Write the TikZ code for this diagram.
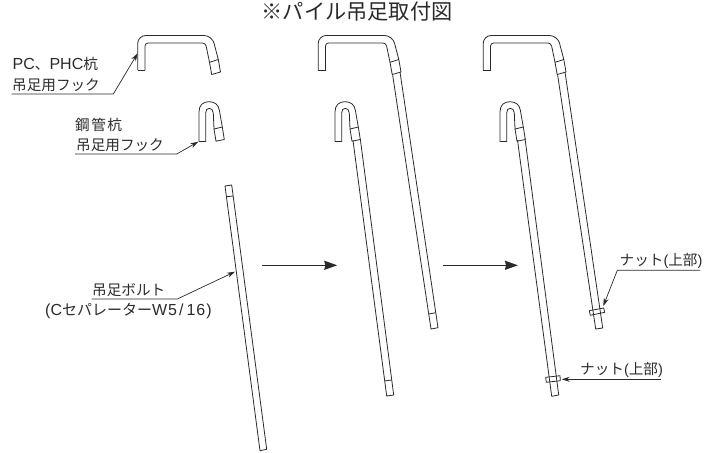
\documentclass[tikz,border=0pt]{standalone}
\usepackage{fontspec}
\setmainfont{Liberation Sans}
\newfontfamily\cjk{Noto Sans CJK JP}
\usetikzlibrary{arrows.meta}
\definecolor{ink}{HTML}{2A2A2A}
\newcommand{\jp}[1]{{\cjk\fontsize{14.6}{16}\selectfont #1}}
\tikzset{
  part/.style={draw=ink,line width=0.8pt,line join=round},
  leader/.style={draw=ink,line width=0.7pt,-{Stealth[length=8pt,width=5pt]}},
  flow/.style={draw=ink,line width=1.5pt,-{Stealth[length=13pt,width=9pt,inset=1pt]}},
  lab/.style={anchor=base west,inner sep=0pt,text=ink,font=\fontsize{16}{18}\selectfont},
  ttl/.style={anchor=base west,inner sep=0pt,text=ink}
}
\newcommand{\longhook}[1]{%
  \begin{scope}[shift={(#1,0)}]
    \draw[part,rounded corners=8pt] (137.7,70) -- (137.7,35.5) -- (212,35.5) -- (218.3,59.5);
    \draw[part,rounded corners=3pt] (145,70) -- (145,43) -- (205.5,43) -- (209.5,62.3);
    \draw[part] (137.7,70) -- (145,70);
    \draw[part] (209.5,62.3) -- (218.3,59.5) -- (220.5,72) -- (211.7,74.5) -- cycle;
  \end{scope}}
\newcommand{\shorthook}[1]{%
  \begin{scope}[shift={(#1,0)}]
    \draw[part] (199,141.7) -- (199,112) .. controls (199,105) and (203,101.7) .. (209,101.7)
      .. controls (215,101.7) and (218.5,105) .. (219.3,110) -- (222.3,127);
    \draw[part] (205.7,141.7) -- (205.7,113) .. controls (205.7,110) and (207,108.3) .. (209.3,108.3)
      .. controls (211.5,108.3) and (213,110) .. (213.3,113) -- (214,129);
    \draw[part] (199,141.7) -- (205.7,141.7);
    \draw[part] (214,129) -- (222.3,127) -- (224.3,139.5) -- (216,141.2) -- cycle;
  \end{scope}}
\begin{document}
\begin{tikzpicture}[x=1pt,y=-1pt]
\useasboundingbox (0,0) rectangle (714,452);
% title
\node[ttl] (title) at (261.5,19.5) {{\cjk\fontsize{21.2}{24}\selectfont ※パイル吊足取付図}};
% hooks
\longhook{0}
\shorthook{0}
\longhook{180.5}
\shorthook{136}
\longhook{345.5}
\shorthook{301}
% bolt
\draw[part] (225,186) -- (231.7,185) -- (266.7,449.3) -- (260,450.7) -- cycle;
\draw[part] (226.5,196.7) -- (233.2,196);
% middle rods
\draw[part] (392.5,74) -- (431,329) -- (438,327.7) -- (400,72);
\draw[part] (428.8,314) -- (435.8,312.7);
\draw[part] (353,140.5) -- (386.7,396) -- (393.7,395) -- (360.3,139);
\draw[part] (384.8,380.9) -- (391.7,380);
% right rods
\draw[part] (557.5,74) -- (595.7,329) -- (602.7,328) -- (565,72);
\draw[part] (589.3,310.7) -- (603.7,308) -- (604.7,312.3) -- (590.3,315.3) -- cycle;
\draw[part] (517.5,140) -- (551.7,396.3) -- (558.7,395) -- (525,138.5);
\draw[part] (545.7,377.3) -- (560,375.7) -- (560.3,380.7) -- (546.3,382.3) -- cycle;
% labels
\node[lab] (pc) at (12.5,69) {PC\jp{、}PHC\jp{杭}};
\node[lab] (pcb) at (12,90) {\jp{吊足用フック}};
\node[lab] (st) at (75,130) {\jp{鋼\hspace{1.5pt}管\hspace{1.5pt}杭}};
\node[lab] (stb) at (76,150) {\jp{吊足用フック}};
\node[lab] (bo) at (92,295) {\jp{吊足ボルト}};
\node[lab] (boc) at (45,315.5) {(C{\cjk\fontsize{15}{16}\selectfont セパレーター}W\kern1pt 5\kern2pt /\kern3pt 1\kern1pt 6\kern1pt )};
\node[lab,font=\fontsize{14.6}{16}\selectfont] (nu) at (619.5,265) {\jp{ナット}(\jp{上部})};
\node[lab,font=\fontsize{14.6}{16}\selectfont] (nv) at (580,374) {\jp{ナット}(\jp{上部})};
% leader coordinates
\coordinate (a0) at (11.7,94);   \coordinate (a1) at (113.3,94);  \coordinate (a2) at (137.7,53.3);
\coordinate (b0) at (75,154);    \coordinate (b1) at (176.7,154); \coordinate (b2) at (198.3,141.7);
\coordinate (c0) at (91.7,299);  \coordinate (c1) at (177.3,299); \coordinate (c2) at (235,271.7);
\coordinate (d0) at (700,270.3); \coordinate (d1) at (617.3,270.3); \coordinate (d2) at (603.3,306);
\coordinate (e0) at (660.7,379.3); \coordinate (e2) at (561.7,379.3);
\draw[leader] (a0) -- (a1) -- (a2);
\draw[leader] (b0) -- (b1) -- (b2);
\draw[leader] (c0) -- (c1) -- (c2);
\draw[leader] (d0) -- (d1) -- (d2);
\draw[leader] (e0) -- (e2);
% flow arrows
\coordinate (f0) at (262,265.3); \coordinate (f1) at (337.3,265.3);
\coordinate (g0) at (442.7,265.3); \coordinate (g1) at (518,265.3);
\draw[flow] (f0) -- (f1);
\draw[flow] (g0) -- (g1);
\end{tikzpicture}
\end{document}
